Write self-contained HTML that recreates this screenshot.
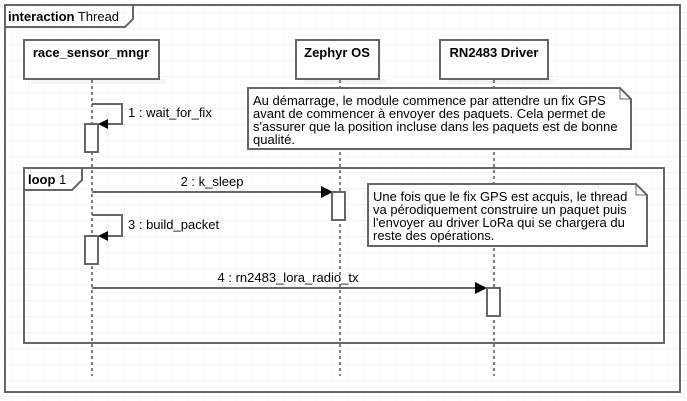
<!DOCTYPE html>
<html><head><meta charset="utf-8"><style>
html,body{margin:0;padding:0;background:#fff;}
svg{display:block;font-family:"Liberation Sans",Arial,sans-serif;}
</style></head><body>
<svg width="687" height="401" viewBox="0 0 687 401" xmlns="http://www.w3.org/2000/svg">
<defs>
<pattern id="g" width="16" height="16" patternUnits="userSpaceOnUse" x="-4" y="-4">
<path d="M16 0H0V16" fill="none" stroke="#ececec" stroke-width="1"/>
</pattern>
</defs>
<rect width="687" height="401" fill="url(#g)"/>
<g fill="none" stroke="#666" stroke-width="2">
<rect x="5" y="5" width="675" height="387"/>
<path d="M5 27H125L133 19V5"/>
</g>
<text x="8" y="21" font-size="13" fill="#000"><tspan font-weight="bold">interaction</tspan> Thread</text>
<!-- lifeline boxes -->
<g fill="#f3f3f3" opacity="0.9"><rect x="31" y="79" width="134" height="5"/><rect x="303" y="79" width="83" height="5"/><rect x="447" y="79" width="108" height="5"/></g>
<g fill="#fff" stroke="#666" stroke-width="2">
<rect x="24" y="40" width="135" height="39"/>
<rect x="296" y="40" width="83" height="39"/>
<rect x="440" y="40" width="108" height="39"/>
</g>
<g font-size="13" font-weight="bold" text-anchor="middle" fill="#000">
<text x="91" y="57">race_sensor_mngr</text>
<text x="337" y="57">Zephyr OS</text>
<text x="494" y="57">RN2483 Driver</text>
</g>
<g stroke="#000" stroke-width="1" stroke-dasharray="3,3">
<line x1="92" y1="80" x2="92" y2="376"/>
<line x1="340" y1="80" x2="340" y2="376"/>
<line x1="494" y1="80" x2="494" y2="376"/>
</g>
<!-- note 1 -->
<path d="M248 88H620L631 99V149H248Z" fill="#fff" stroke="#666" stroke-width="2"/>
<path d="M620 88V99H631" fill="none" stroke="#666" stroke-width="1"/>
<g font-size="13" fill="#000">
<text x="253" y="105">Au démarrage, le module commence par attendre un fix GPS</text>
<text x="253" y="118">avant de commencer à envoyer des paquets. Cela permet de</text>
<text x="253" y="131">s'assurer que la position incluse dans les paquets est de bonne</text>
<text x="253" y="144">qualité.</text>
</g>
<!-- self msg 1 -->
<path d="M92 104H122V124H100" fill="none" stroke="#666" stroke-width="2"/>
<path d="M98 124L108 119V129Z" fill="#000"/>
<rect x="85" y="124" width="13" height="28" fill="#fff" stroke="#666" stroke-width="2"/>
<text x="128" y="117" font-size="13">1 : wait_for_fix</text>
<!-- loop -->
<g fill="none" stroke="#666" stroke-width="2">
<rect x="24" y="168" width="640" height="175"/>
<path d="M24 190H72L82 180V168"/>
</g>
<text x="28" y="184" font-size="13"><tspan font-weight="bold">loop</tspan> 1</text>
<!-- msg 2 -->
<line x1="92" y1="192" x2="324" y2="192" stroke="#666" stroke-width="2"/>
<path d="M333 192L321 186V198Z" fill="#000"/>
<rect x="332" y="192" width="13" height="28" fill="#fff" stroke="#666" stroke-width="2"/>
<text x="212" y="186" font-size="13" text-anchor="middle">2 : k_sleep</text>
<!-- note 2 -->
<path d="M368 184H636L647 195V246H368Z" fill="#fff" stroke="#666" stroke-width="2"/>
<path d="M636 184V195H647" fill="none" stroke="#666" stroke-width="1"/>
<g font-size="13" fill="#000">
<text x="373" y="201">Une fois que le fix GPS est acquis, le thread</text>
<text x="373" y="214">va pérodiquement construire un paquet puis</text>
<text x="373" y="227">l'envoyer au driver LoRa qui se chargera du</text>
<text x="373" y="240">reste des opérations.</text>
</g>
<!-- self msg 3 -->
<path d="M92 215H122V236H100" fill="none" stroke="#666" stroke-width="2"/>
<path d="M98 236L108 231V241Z" fill="#000"/>
<rect x="85" y="236" width="13" height="28" fill="#fff" stroke="#666" stroke-width="2"/>
<text x="128" y="229" font-size="13">3 : build_packet</text>
<!-- msg 4 -->
<line x1="92" y1="288" x2="478" y2="288" stroke="#666" stroke-width="2"/>
<path d="M487 288L475 282V294Z" fill="#000"/>
<rect x="487" y="288" width="13" height="28" fill="#fff" stroke="#666" stroke-width="2"/>
<text x="288" y="282" font-size="13" text-anchor="middle">4 : rn2483_lora_radio_tx</text>
</svg>
</body></html>
